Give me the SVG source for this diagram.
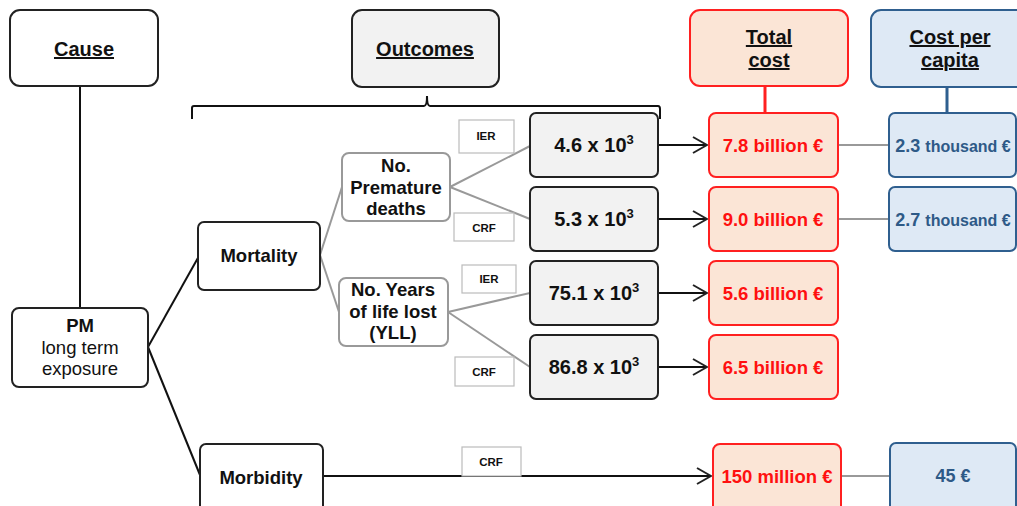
<svg xmlns="http://www.w3.org/2000/svg" width="1017" height="506" viewBox="0 0 1017 506">
<defs>
<marker id="arr" viewBox="0 0 16 18" refX="15" refY="9" markerWidth="16" markerHeight="18" markerUnits="userSpaceOnUse" orient="auto">
<path d="M1,1 L15,9 L1,17" fill="none" stroke="#222" stroke-width="2"/>
</marker>
<style>
text{font-family:"Liberation Sans",Arial,sans-serif;font-weight:bold;text-anchor:middle;fill:#111}
.blk{fill:#fff;stroke:#222;stroke-width:2}
.gry{fill:#f2f2f2;stroke:#222;stroke-width:2}
.red{fill:#fbe5d6;stroke:#ff2020;stroke-width:2}
.blu{fill:#dee9f5;stroke:#2f5f8f;stroke-width:2}
.lgt{fill:#fff;stroke:#999;stroke-width:2}
.lab{fill:#fff;stroke:#bbb;stroke-width:1.2}
.hd{font-size:20px;text-decoration:underline}
.nd{font-size:18.5px}
.val{font-size:20px}
.sup{font-size:13px}
.rt{font-size:18.5px;fill:#ff1010}
.bt{font-size:18px;fill:#2e5a87}
.sm{font-size:11.5px}
.gl{stroke:#999;stroke-width:2;fill:none}
.bl{stroke:#111;stroke-width:2;fill:none}
</style>
</defs>
<g id="connectors">
<line class="bl" x1="80" y1="86" x2="80" y2="308"/>
<path class="bl" d="M192,119 L192,108 Q192,106 194,106 L424,106 Q427,106 427,96 Q427,106 430,106 L658,106 Q660,106 660,109 L660,119" stroke-width="1.5"/>
<line class="bl" x1="148" y1="347" x2="199" y2="256"/>
<line class="bl" x1="148" y1="347" x2="200" y2="475"/>
<line class="gl" x1="320" y1="255" x2="342" y2="187"/>
<line class="gl" x1="320" y1="255" x2="339" y2="312"/>
<line class="gl" x1="450" y1="187" x2="530" y2="146"/>
<line class="gl" x1="450" y1="187" x2="530" y2="219"/>
<line class="gl" x1="448" y1="312" x2="530" y2="293"/>
<line class="gl" x1="448" y1="312" x2="530" y2="367"/>
<line class="bl" x1="658" y1="145" x2="707" y2="145" marker-end="url(#arr)"/>
<line class="bl" x1="658" y1="219" x2="707" y2="219" marker-end="url(#arr)"/>
<line class="bl" x1="658" y1="293" x2="707" y2="293" marker-end="url(#arr)"/>
<line class="bl" x1="658" y1="367" x2="707" y2="367" marker-end="url(#arr)"/>
<line class="bl" x1="323" y1="476" x2="711" y2="476" marker-end="url(#arr)"/>
<line class="gl" x1="838" y1="145" x2="889" y2="145"/>
<line class="gl" x1="838" y1="219" x2="889" y2="219"/>
<line class="gl" x1="841" y1="476" x2="890" y2="476"/>
<line x1="765" y1="87" x2="765" y2="113" stroke="#ff2020" stroke-width="3"/>
<line x1="947" y1="87" x2="947" y2="113" stroke="#2f5f8f" stroke-width="3"/>
</g>
<g id="cause"><rect class="blk" x="10" y="10" width="148" height="76" rx="10"/><text class="hd" x="84" y="56">Cause</text></g>
<g id="outcomes"><rect class="gry" x="352" y="10" width="147" height="77" rx="10"/><text class="hd" x="425" y="56">Outcomes</text></g>
<g id="totalcost"><rect class="red" x="690" y="10" width="158" height="76" rx="10"/><text class="hd" x="769" y="44">Total</text><text class="hd" x="769" y="67">cost</text></g>
<g id="percapita"><rect class="blu" x="871" y="10" width="158" height="77" rx="10"/><text class="hd" x="950" y="44">Cost per</text><text class="hd" x="950" y="67">capita</text></g>
<g id="pm"><rect class="blk" x="12" y="308" width="136" height="79" rx="7"/><text class="nd" x="80" y="332">PM</text><text class="nd" x="80" y="354" style="font-weight:normal">long term</text><text class="nd" x="80" y="375" style="font-weight:normal">exposure</text></g>
<g id="mortality"><rect class="blk" x="198" y="222" width="122" height="68" rx="6"/><text class="nd" x="259" y="262">Mortality</text></g>
<g id="morbidity"><rect class="blk" x="200" y="444" width="123" height="70" rx="6"/><text class="nd" x="261" y="484">Morbidity</text></g>
<g id="premature"><rect class="lgt" x="342" y="153" width="108" height="68" rx="7"/><text class="nd" x="396" y="172">No.</text><text class="nd" x="396" y="194">Premature</text><text class="nd" x="396" y="215">deaths</text></g>
<g id="yll"><rect class="lgt" x="339" y="278" width="109" height="68" rx="7"/><text class="nd" x="393" y="296">No. Years</text><text class="nd" x="393" y="318">of life lost</text><text class="nd" x="393" y="339">(YLL)</text></g>
<g id="ier1"><rect class="lab" x="459" y="120" width="55" height="33"/><text class="sm" x="486" y="140">IER</text></g>
<g id="crf1"><rect class="lab" x="454" y="213" width="60" height="28"/><text class="sm" x="484" y="232">CRF</text></g>
<g id="ier2"><rect class="lab" x="462" y="265" width="54" height="28"/><text class="sm" x="489" y="283">IER</text></g>
<g id="crf2"><rect class="lab" x="455" y="357" width="59" height="29"/><text class="sm" x="484" y="376">CRF</text></g>
<g id="crf3"><rect class="lab" x="462" y="447" width="59" height="29"/><text class="sm" x="491" y="466">CRF</text></g>
<g id="v1"><rect class="gry" x="530" y="113" width="128" height="64" rx="6"/><text class="val" x="594" y="152">4.6 x 10<tspan class="sup" dy="-8">3</tspan></text></g>
<g id="v2"><rect class="gry" x="530" y="187" width="128" height="64" rx="6"/><text class="val" x="594" y="226">5.3 x 10<tspan class="sup" dy="-8">3</tspan></text></g>
<g id="v3"><rect class="gry" x="530" y="261" width="128" height="64" rx="6"/><text class="val" x="594" y="300">75.1 x 10<tspan class="sup" dy="-8">3</tspan></text></g>
<g id="v4"><rect class="gry" x="530" y="335" width="128" height="64" rx="6"/><text class="val" x="594" y="374">86.8 x 10<tspan class="sup" dy="-8">3</tspan></text></g>
<g id="c1"><rect class="red" x="709" y="113" width="129" height="64" rx="7"/><text class="rt" x="773" y="152">7.8 billion €</text></g>
<g id="c2"><rect class="red" x="709" y="187" width="129" height="64" rx="7"/><text class="rt" x="773" y="226">9.0 billion €</text></g>
<g id="c3"><rect class="red" x="709" y="261" width="129" height="64" rx="7"/><text class="rt" x="773" y="300">5.6 billion €</text></g>
<g id="c4"><rect class="red" x="709" y="335" width="129" height="64" rx="7"/><text class="rt" x="773" y="374">6.5 billion €</text></g>
<g id="c5"><rect class="red" x="713" y="444" width="128" height="70" rx="7"/><text class="rt" x="777" y="483">150 million €</text></g>
<g id="p1"><rect class="blu" x="889" y="113" width="127" height="64" rx="6"/><text class="bt" x="953" y="152">2.3 <tspan font-size="16px">thousand €</tspan></text></g>
<g id="p2"><rect class="blu" x="889" y="187" width="127" height="64" rx="6"/><text class="bt" x="953" y="226">2.7 <tspan font-size="16px">thousand €</tspan></text></g>
<g id="p3"><rect class="blu" x="890" y="443" width="126" height="71" rx="6"/><text class="bt" x="953" y="482">45 €</text></g>
</svg>
